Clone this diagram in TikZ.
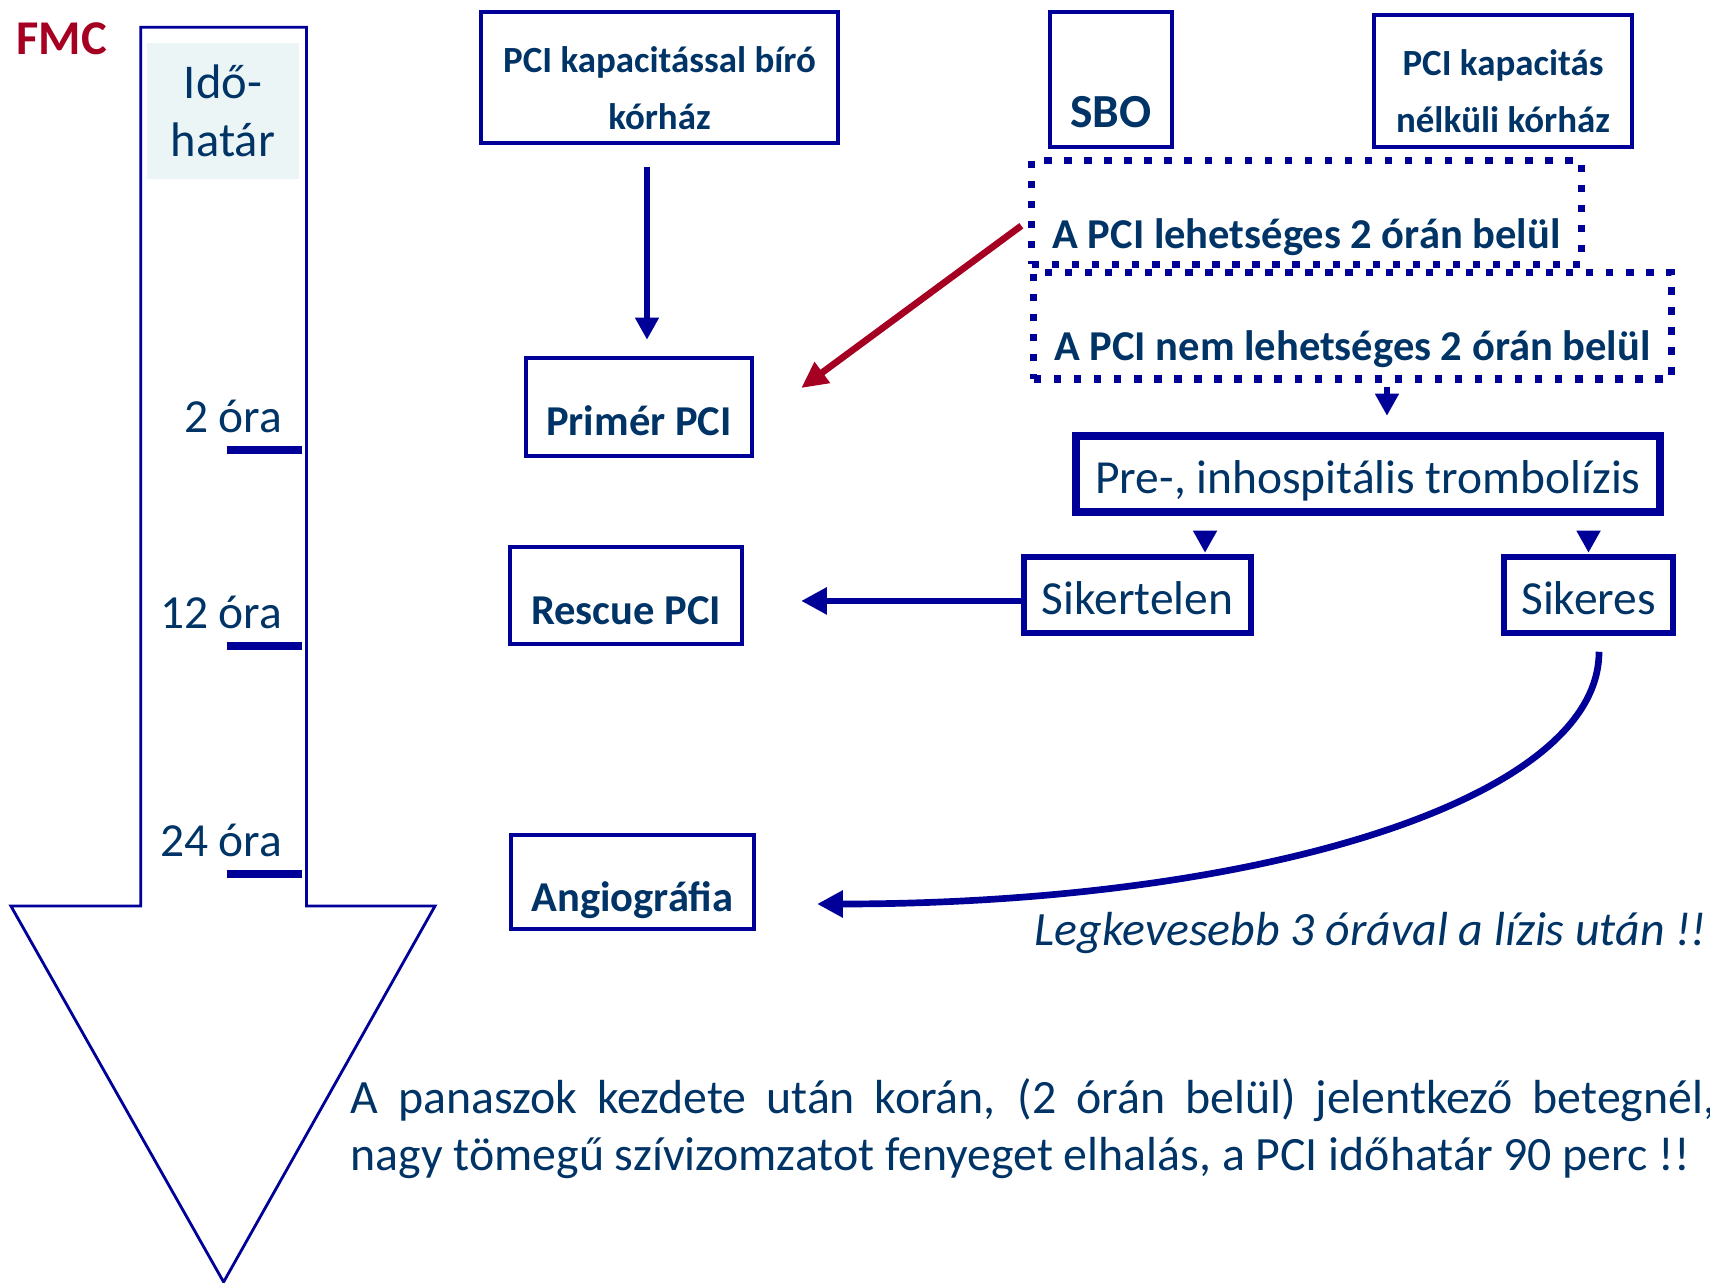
\documentclass[tikz,border=0pt]{standalone}
\usepackage{fontspec}
\setmainfont{Carlito}
\usetikzlibrary{arrows.meta,calc}

\definecolor{navytext}{RGB}{0,51,102}
\definecolor{boxblue}{RGB}{0,0,153}
\definecolor{fmcred}{RGB}{165,0,33}
\definecolor{paleteal}{RGB}{236,245,245}

\begin{document}
\begin{tikzpicture}[x=0.01cm,y=-0.01cm,
    every node/.style={text=navytext,inner sep=0pt},
    plainbox/.style={draw=boxblue,line width=1.25pt,align=center,font=\fontsize{10.5}{16.2}\selectfont\bfseries},
    lowbox/.style={draw=boxblue,line width=1.2pt,anchor=base,font=\fontsize{12.1}{14}\selectfont\bfseries},
    dotbox/.style={draw=boxblue,line width=2pt,dash pattern=on 2.1pt off 3.6pt,anchor=base,font=\fontsize{12.1}{15}\selectfont\bfseries},
    roundbox/.style={draw=boxblue,line width=1.6pt,anchor=base,text height=16.3pt,text depth=5.3pt,font=\fontsize{13.5}{16}\selectfont},
    arr/.style={draw=boxblue,line width=1.5pt,-{Triangle[length=6.3pt,width=6.5pt]}},
    fatarr/.style={draw=boxblue,line width=1.9pt,-{Triangle[length=7.3pt,width=7.3pt]}},
    redarr/.style={draw=fmcred,line width=1.9pt,-{Triangle[length=7.5pt,width=7pt]}},
    hourmark/.style={draw=boxblue,line width=2pt}]

      \useasboundingbox (0,0) rectangle (1710,1282);

      \draw[boxblue,line width=0.8pt,fill=white] (140.7,27.3) -- (306.5,27.3) -- (306.5,906) -- (435,906)
        -- (223.6,1282) -- (10.9,906) -- (140.7,906) -- cycle;
      \node[fill=paleteal,minimum width=43.2pt,minimum height=38.7pt,align=center,
        font=\fontsize{13.8}{16.4}\selectfont] (idohatar) at (223,111) {Idő-\\határ};
      \node[anchor=base west,text=fmcred,font=\fontsize{13.8}{16}\selectfont\bfseries] (fmc) at (16,55) {FMC};

      \foreach \y/\ora [count=\i] in {450/2 óra,646/12 óra,874/24 óra}{
        \draw[hourmark] (227,\y) -- (302,\y);
        \node[anchor=base east,font=\fontsize{13.5}{16}\selectfont] (ora\i) at (283,{\y-18}) {\ora};
      }

      \node[plainbox,minimum width=101.6pt,minimum height=37.3pt] (pcihosp) at (659.5,77.5)
        {\rule{0pt}{13.2pt}PCI kapacitással bíró\\kórház};
      \node[lowbox,text height=33pt,text depth=5.4pt,minimum width=34.7pt,
        font=\fontsize{13.5}{16}\selectfont\bfseries] (sbo) at (1111,128) {SBO};
      \node[plainbox,minimum width=73.4pt,minimum height=37.6pt] (nopci) at (1503,81)
        {\rule{0pt}{13.2pt}PCI kapacitás\\nélküli kórház};

      \node[dotbox,text height=25pt,text depth=4.5pt,minimum width=156.2pt] (within) at (1306.5,248.3) {A PCI lehetséges 2 órán belül};
      \node[dotbox,text height=25.2pt,text depth=5.2pt,minimum width=181.2pt] (notwithin) at (1352.5,360.7) {A PCI nem lehetséges 2 órán belül};

      \node[lowbox,text height=21.9pt,text depth=6pt,minimum width=64.3pt] (primer) at (639,435) {Primér PCI};
      \node[lowbox,text height=21.9pt,text depth=5.7pt,minimum width=66pt] (rescue) at (626,624) {Rescue PCI};
      \node[lowbox,text height=21.6pt,text depth=5.1pt,minimum width=69.1pt] (angio) at (632.5,911) {Angiográfia};

      \node[roundbox,line width=2.3pt,minimum width=166.2pt] (lysis) at (1368,493.3) {Pre-, inhospitális trombolízis};
      \node[roundbox,minimum width=64.6pt] (failed) at (1137.5,614.3) {Sikertelen};
      \node[roundbox,minimum width=48.1pt] (success) at (1588.5,614.3) {Sikeres};

      \node[anchor=base west,font=\fontsize{13.6}{16}\selectfont\itshape] (lizis) at (1034,945) {Legkevesebb 3 órával a lízis után !!};
      \node[anchor=base west,font=\fontsize{13.6}{16}\selectfont] (panasz1) at (350,1113)
        {\makebox[388pt][s]{A panaszok kezdete után korán, (2 órán belül) jelentkező betegnél,}};
      \node[anchor=base west,font=\fontsize{13.6}{16}\selectfont] (panasz2) at (350,1170)
        {nagy tömegű szívizomzatot fenyeget elhalás, a PCI időhatár 90 perc !!};

      \draw[arr,shorten <=6.3pt,shorten >=4.6pt] ([xshift=-3.56pt]pcihosp.south) -- ([xshift=-3.56pt]pcihosp.south |- primer.north);
      \draw[redarr] ($(within.west)+(-7,13.5)$) -- ($(primer.east)+(47,-19)$);
      \draw[arr,shorten <=1.4pt,shorten >=4.6pt] ([xshift=9.8pt]notwithin.south) -- ([xshift=9.8pt]notwithin.south |- lysis.north);
      \draw[arr,shorten <=4.3pt,shorten >=0.4pt] ([xshift=19.2pt]failed.north |- lysis.south) -- ([xshift=19.2pt]failed.north);
      \draw[arr,shorten <=4.3pt,shorten >=0.4pt] (success.north |- lysis.south) -- (success.north);
      \draw[fatarr,shorten >=16.2pt] ([yshift=-1.7pt]failed.west) -- ([yshift=-1.7pt]failed.west -| rescue.east);
      \draw[fatarr] ($(success.south)+(10.5,16)$) .. controls +(0,150) and +(435,0) .. ($(angio.east)+(61,22)$);

    \end{tikzpicture}
\end{document}
